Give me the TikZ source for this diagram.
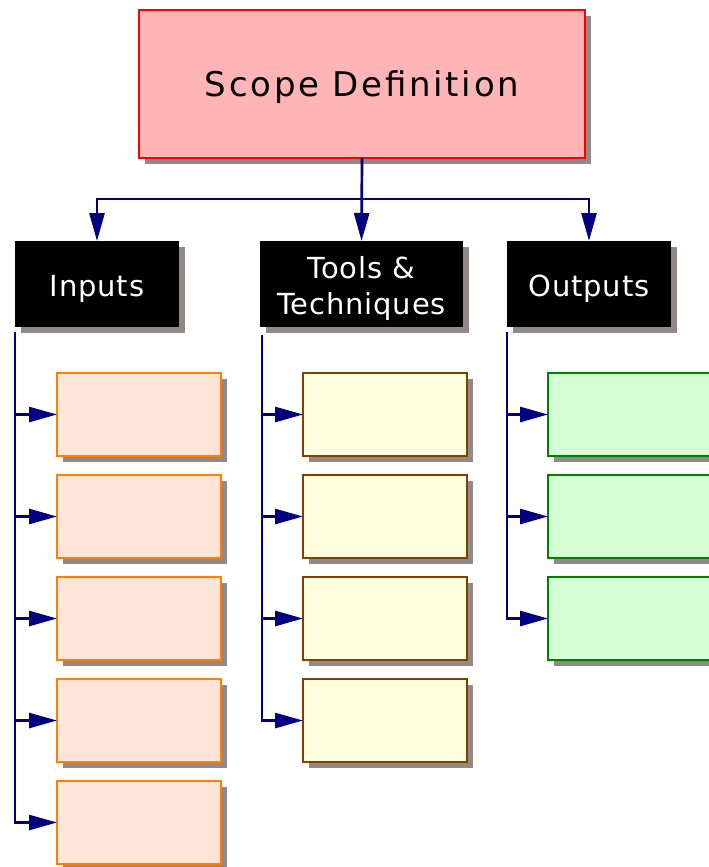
\documentclass[tikz,border=0pt]{standalone}
\usepackage{fontspec}
\setmainfont{DejaVu Sans}
\newfontfamily\titlefont[LetterSpace=8]{DejaVu Sans}
\newfontfamily\hdrfont[LetterSpace=3]{DejaVu Sans}
\usetikzlibrary{arrows.meta,shadows}

\definecolor{shadowgray}{RGB}{145,137,137}
\definecolor{scopefill}{RGB}{255,181,181}
\definecolor{infill}{RGB}{255,228,216}
\definecolor{inedge}{RGB}{255,128,0}
\definecolor{toolfill}{RGB}{255,255,224}
\definecolor{tooledge}{RGB}{128,64,0}
\definecolor{outfill}{RGB}{213,255,213}
\definecolor{outedge}{RGB}{0,128,0}
\definecolor{connblue}{RGB}{0,0,128}

\newcommand{\hdrtext}[1]{\raisebox{-5pt}[\height][\depth]{\begin{tabular}{@{}c@{}}#1\end{tabular}}}

\tikzset{
  boxshadow/.style={drop shadow={shadow xshift=6pt,shadow yshift=-6pt,fill=shadowgray,opacity=1}},
  topbox/.style={draw=red,fill=scopefill,line width=1.5pt,minimum width=446pt,minimum height=148pt,
    inner sep=0pt,outer sep=0pt,boxshadow},
  hdrbox/.style={fill=black,text=white,minimum width=164pt,minimum height=86pt,inner sep=0pt,
    outer sep=0pt,font=\hdrfont\fontsize{29}{36}\selectfont,boxshadow},
  subbox/.style={line width=1.8pt,minimum width=164pt,minimum height=83pt,inner sep=0pt,outer sep=0pt,boxshadow},
  inbox/.style={subbox,draw=inedge,fill=infill},
  toolbox/.style={subbox,draw=tooledge,fill=toolfill},
  outbox/.style={subbox,draw=outedge,fill=outfill},
  conn/.style={draw=connblue,line width=2.7pt,-{Triangle[length=28pt,width=15pt]}}
}

\begin{document}
\begin{tikzpicture}[x=1pt,y=-1pt]
    % Area fija de la figura
    \useasboundingbox (0,0) rectangle (709,867);

    % Caja principal
    \node[topbox] (scope) at (362,84) {\raisebox{-3pt}[\height][\depth]{\titlefont\fontsize{34}{40}\selectfont Scope Definition}};

    % Cabeceras
    \node[hdrbox] (inputs) at (97,284) {\hdrtext{Inputs}};
    \node[hdrbox,minimum width=203pt] (tools) at (361.5,284) {\hdrtext{Tools \&\\Techniques}};
    \node[hdrbox] (outputs) at (589,284) {\hdrtext{Outputs}};

    % Cajas de cada columna
    \foreach \i/\y in {1/414.5,2/516.5,3/618.5,4/720.5,5/822.5}
        \node[inbox] (in\i) at (139,\y) {};
    \foreach \i/\y in {1/414.5,2/516.5,3/618.5,4/720.5}
        \node[toolbox] (tool\i) at (385,\y) {};
    \foreach \i/\y in {1/414.5,2/516.5,3/618.5}
        \node[outbox] (out\i) at (630,\y) {};

    % Flechas desde la caja principal
    \draw[conn] (scope.south) -- (tools.north);
    \draw[conn] (scope.south) -- ++(0,41) -| (inputs.north);
    \draw[conn] (scope.south) -- ++(0,41) -| (outputs.north);

    % Flechas laterales
    \foreach \i in {1,...,5}
        \draw[conn] ([yshift=-5pt]inputs.south west) |- (in\i.west);
    \foreach \i in {1,...,4}
        \draw[conn] ([xshift=2pt,yshift=-8pt]tools.south west) |- (tool\i.west);
    \foreach \i in {1,...,3}
        \draw[conn] ([yshift=-5pt]outputs.south west) |- (out\i.west);
\end{tikzpicture}
\end{document}
